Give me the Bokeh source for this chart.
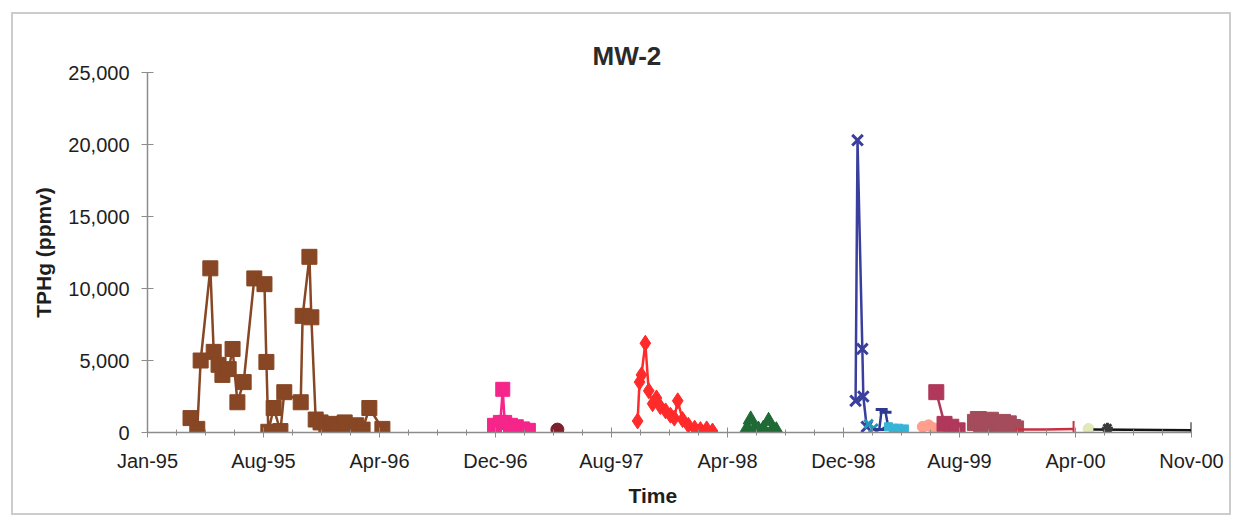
import pandas as pd
from bokeh.plotting import figure
from bokeh.layouts import column
from bokeh.models import FixedTicker, Range1d, NumeralTickFormatter, Title
from bokeh.embed import file_html
from bokeh.resources import INLINE

# ---------------- data ----------------
tick_dates = ["1995-01-01", "1995-08-29", "1996-04-25", "1996-12-21", "1997-08-18",
              "1998-04-15", "1998-12-11", "1999-08-08", "2000-04-04", "2000-11-30"]
tick_labels = ["Jan-95", "Aug-95", "Apr-96", "Dec-96", "Aug-97",
               "Apr-98", "Dec-98", "Aug-99", "Apr-00", "Nov-00"]
y_ticks = [0, 5000, 10000, 15000, 20000, 25000]

brown_dates = ["1995-03-31", "1995-04-14", "1995-04-21", "1995-05-11", "1995-05-18", "1995-05-28",
               "1995-06-05", "1995-06-18", "1995-06-26", "1995-07-06", "1995-07-19", "1995-08-10",
               "1995-08-31", "1995-09-04", "1995-09-08", "1995-09-19", "1995-10-03", "1995-10-11",
               "1995-11-14", "1995-11-18", "1995-12-02", "1995-12-06", "1995-12-15", "1995-12-25",
               "1996-01-06", "1996-01-19", "1996-01-31", "1996-02-13", "1996-02-25", "1996-03-08",
               "1996-03-21", "1996-04-04", "1996-05-01"]
brown_vals = [1000, 250, 5000, 11400, 5600, 4700, 4000, 4400, 5800, 2100, 3500, 10700,
              10300, 4900, 50, 1700, 100, 2800, 2100, 8100, 12200, 8000, 900, 700,
              500, 600, 400, 700, 300, 500, 200, 1700, 250]

pink_dates = ["1996-12-19", "1996-12-31", "1997-01-05", "1997-01-09", "1997-01-21",
              "1997-02-02", "1997-02-15", "1997-02-27"]
pink_vals = [500, 700, 3000, 700, 500, 400, 250, 150]

darkred_dates = ["1997-04-28"]
darkred_vals = [200]

red_dates = ["1997-10-11", "1997-10-15", "1997-10-19", "1997-10-27", "1997-11-03", "1997-11-11",
             "1997-11-19", "1997-11-27", "1997-12-08", "1997-12-18", "1997-12-26", "1998-01-02",
             "1998-01-12", "1998-01-24", "1998-02-06", "1998-02-18", "1998-03-03", "1998-03-15"]
red_vals = [800, 3500, 4000, 6200, 2900, 2000, 2400, 1800, 1500, 1200, 1000, 2200,
            900, 500, 300, 200, 250, 100]

green_dates = ["1998-05-26", "1998-06-02", "1998-06-10", "1998-06-18", "1998-06-28",
               "1998-07-09", "1998-07-17", "1998-07-25"]
green_vals = [300, 900, 200, 200, 250, 800, 200, 150]

navy_dates = ["1999-01-05", "1999-01-09", "1999-01-19", "1999-01-21", "1999-01-28"]
navy_vals = [2200, 20300, 5800, 2500, 400]

teal_dates = ["1999-02-01", "1999-02-11"]
teal_vals = [600, 300]

blue_dates = ["1999-02-23", "1999-02-28", "1999-03-08", "1999-03-14"]
blue_vals = [200, 1600, 1400, 300]

cyan_dates = ["1999-03-14", "1999-03-24", "1999-04-04", "1999-04-16"]
cyan_vals = [400, 300, 300, 250]

salmon_dates = ["1999-05-24", "1999-06-05", "1999-06-15"]
salmon_vals = [400, 500, 300]

crimson_dates = ["1999-06-21", "1999-07-08", "1999-07-22", "1999-08-04"]
crimson_vals = [2800, 600, 400, 150]

maroon_dates = ["1999-09-10", "1999-09-16", "1999-09-23", "1999-09-29", "1999-10-05", "1999-10-11",
                "1999-10-17", "1999-10-24", "1999-10-30", "1999-11-05", "1999-11-11", "1999-11-17",
                "1999-11-26", "1999-12-02"]
maroon_vals = [700, 900, 400, 800, 500, 850, 400, 600, 300, 700, 400, 600, 350, 250]

redplus_dates = ["1999-12-02", "2000-02-01", "2000-03-31"]
redplus_vals = [200, 200, 250]

pale_dates = ["2000-05-01"]
pale_vals = [250]

black_dates = ["2000-05-11", "2000-11-30"]
black_vals = [200, 150]

star_dates = ["2000-06-09"]
star_vals = [300]

# ---------------- helpers ----------------
EPOCH = pd.Timestamp("1899-12-30")


def serial(ds):
    return [(pd.Timestamp(d) - EPOCH).days for d in ds]


tick_x = serial(tick_dates)
x0, x1 = tick_x[0], tick_x[-1]

p = figure(width=1216, height=499, frame_width=1044, frame_height=360,
           min_border_left=134, min_border_right=38, min_border_top=58, min_border_bottom=81,
           output_backend="svg", toolbar_location=None,
           x_range=Range1d(x0, x1), y_range=Range1d(0, 25000))
p.background_fill_color = "white"
p.border_fill_color = "white"
p.outline_line_color = None
p.grid.visible = False

FONT = "Liberation Sans"
title = Title(text="MW-2", align="left", offset=445, standoff=4,
              text_font=FONT, text_font_size="26px", text_font_style="bold",
              text_color="#2a2a2a")
p.add_layout(title, "above")

xtitle = Title(text="Time", align="left", offset=481, standoff=14,
               text_font=FONT, text_font_size="21px", text_font_style="bold",
               text_color="#1e1e1e")
p.add_layout(xtitle, "below")

for ax in (p.xaxis[0], p.yaxis[0]):
    ax.axis_line_color = "#8c8c8c"
    ax.axis_line_width = 1.5
    ax.major_tick_line_color = "#8c8c8c"
    ax.minor_tick_line_color = "#8c8c8c"
    ax.major_label_text_font = FONT
    ax.major_label_text_font_size = "20px"
    ax.major_label_text_color = "#1e1e1e"
    ax.axis_label_text_font = FONT
    ax.axis_label_text_font_size = "21px"
    ax.axis_label_text_font_style = "bold"
    ax.axis_label_text_color = "#1e1e1e"

minor = list(range(x0, x1 + 1, 60))
p.xaxis.ticker = FixedTicker(ticks=tick_x, minor_ticks=minor)
p.xaxis.major_label_overrides = {t: lab for t, lab in zip(tick_x, tick_labels)}
p.xaxis.major_tick_in = 5
p.xaxis.major_tick_out = 5
p.xaxis.minor_tick_in = 3
p.xaxis.minor_tick_out = 3
p.xaxis.major_label_standoff = 12

p.yaxis.ticker = FixedTicker(ticks=y_ticks, minor_ticks=[])
p.yaxis.formatter = NumeralTickFormatter(format="0,0")
p.yaxis.major_tick_in = 6
p.yaxis.major_tick_out = 6
p.yaxis.major_label_standoff = 12
p.yaxis.axis_label = "TPHg (ppmv)"
p.yaxis.axis_label_standoff = 10

series = [
    (brown_dates, brown_vals, "#874624", "square", 15),
    (pink_dates, pink_vals, "#f5258a", "square", 14),
    (darkred_dates, darkred_vals, "#7e1f2c", "circle", 13),
    (red_dates, red_vals, "#ff2a2a", "diamond", 16),
    (green_dates, green_vals, "#1f6a35", "triangle", 15),
    (navy_dates, navy_vals, "#3a3f9e", "x", 15),
    (teal_dates, teal_vals, "#2597b9", "x", 12),
    (blue_dates, blue_vals, "#2c3a90", "dash", 12),
    (cyan_dates, cyan_vals, "#36b4d6", "square", 8),
    (salmon_dates, salmon_vals, "#ff9f8c", "circle", 11),
    (crimson_dates, crimson_vals, "#b0385a", "square", 15),
    (maroon_dates, maroon_vals, "#a54c5c", "square", 16),
    (redplus_dates, redplus_vals, "#c83040", "none", 0),
    (pale_dates, pale_vals, "#e2e8b8", "circle", 11),
    (black_dates, black_vals, "#141414", "none", 0),
    (star_dates, star_vals, "#3a3a3a", "asterisk", 11),
]

for d, v, col, mk, sz in series:
    xs = serial(d)
    if len(xs) > 1:
        p.line(xs, v, line_color=col, line_width=2.5)
    if mk == "none":
        continue
    if mk in ("x", "asterisk", "dash"):
        p.scatter(xs, v, marker=mk, size=sz, line_color=col, line_width=3)
    else:
        p.scatter(xs, v, marker=mk, size=sz, fill_color=col, line_color=col)

# end caps (vertical bar markers) for the two trailing series
for d, v, col in [(redplus_dates[-1:], redplus_vals[-1:], "#c83040"),
                  (black_dates[-1:], black_vals[-1:], "#141414")]:
    p.scatter(serial(d), v, marker="dash", angle=1.5708, size=16, line_color=col, line_width=2)

# outer chart border around the figure
layout = column(p, styles={"margin-left": "11px", "margin-top": "12px",
                           "border": "2px solid #cccccc"})

open("out.html", "w").write(file_html(layout, INLINE))
